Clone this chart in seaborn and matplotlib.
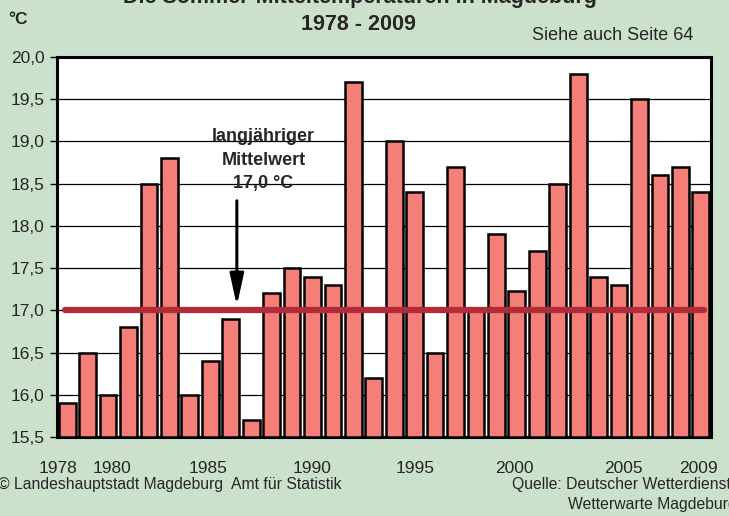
import matplotlib
matplotlib.use("Agg")
import matplotlib.pyplot as plt
import matplotlib.transforms as mtransforms
import seaborn as sns
import pandas as pd
import numpy as np

years = list(range(1978, 2010))
temps = [15.9, 16.5, 16.0, 16.8, 18.5, 18.8, 16.0, 16.4, 16.9, 15.7,
         17.2, 17.5, 17.4, 17.3, 19.7, 16.2, 19.0, 18.4, 16.5, 18.7,
         17.0, 17.9, 17.23, 17.7, 18.5, 19.8, 17.4, 17.3, 19.5, 18.6,
         18.7, 18.4]
mean_value = 17.0
label_years = [1978, 1980, 1985, 1990, 1995, 2000, 2005, 2009]
y_ticks = [15.5, 16.0, 16.5, 17.0, 17.5, 18.0, 18.5, 19.0, 19.5, 20.0]

bg = "#cce1cb"
bar_color = "#f47f79"
line_color = "#b22b38"

sns.set_theme(style="white")
plt.rcParams["font.family"] = ["Liberation Sans", "DejaVu Sans"]

df = pd.DataFrame({"Jahr": [str(y) for y in years], "Temp": temps})

fig = plt.figure(figsize=(7.29, 5.16), dpi=100, facecolor=bg)
ax = fig.add_axes([57/729, 1 - 437/516, (711-57)/729, (437-57)/516])
ax.set_facecolor("white")

sns.barplot(data=df, x="Jahr", y="Temp", color=bar_color, saturation=1,
            width=0.82, edgecolor="black", linewidth=1.8, ax=ax, zorder=3)
# bars start from the axis bottom (15,5)
for p in ax.patches:
    h = p.get_height()
    p.set_y(15.5)
    p.set_height(h - 15.5)

ax.set_ylim(15.5, 20.0)
ax.set_xlim(-0.5, len(years) - 0.5)
ax.set_yticks(y_ticks)
ax.set_yticklabels([f"{v:.1f}".replace(".", ",") for v in y_ticks], fontsize=12.5)
ax.yaxis.grid(True, color="black", linewidth=0.9, zorder=0)
ax.set_axisbelow(True)

ax.set_xticks([years.index(y) for y in label_years])
ax.set_xticklabels([str(y) for y in label_years], fontsize=12.5)
ax.tick_params(axis="x", length=0, pad=17)
# small label nudges (pixels) to mimic the original layout
nudges = [-9, 4, -2, 0, 0, -2, 4, -2]
for lbl, dx in zip(ax.get_xticklabels(), nudges):
    lbl.set_transform(lbl.get_transform() +
                      mtransforms.ScaledTranslation(dx / 100, 0, fig.dpi_scale_trans))
ax.set_xticks(np.arange(len(years) + 1) - 0.5, minor=True)
ax.tick_params(axis="x", which="minor", length=4, width=1, color="black", direction="out")
ax.tick_params(axis="y", length=5, width=1, color="black", direction="out", left=True, pad=4)
ax.set_xlabel("")
ax.set_ylabel("")

for s in ax.spines.values():
    s.set_visible(True)
    s.set_color("black")
    s.set_linewidth(2.2)

ax.axhline(mean_value, xmin=0.012, xmax=0.99, color=line_color, linewidth=4.5, zorder=4)

ax.annotate("", xy=(8.3, mean_value + 0.02), xytext=(8.3, 18.33),
            arrowprops=dict(arrowstyle="-|>,head_width=0.35,head_length=1.6",
                            color="black", lw=2.2), zorder=5)
ax.text(9.6, 18.40, "langjähriger\nMittelwert\n17,0 °C", ha="center", va="bottom",
        fontsize=13, fontweight="bold", linespacing=1.5, zorder=5)

fig.text(360/729, 1 - 3/516, "Die Sommer-Mitteltemperaturen in Magdeburg", ha="center",
         va="baseline", fontsize=15.5, fontweight="bold")
fig.text(358/729, 1 - 24/516, "1978 - 2009", ha="center", va="center",
         fontsize=15.5, fontweight="bold")
fig.text(18/729, 1 - 20/516, "°C", ha="center", va="center",
         fontsize=12.5, fontweight="bold")
fig.text(613/729, 1 - 36/516, "Siehe auch Seite 64", ha="center", va="center",
         fontsize=13)
fig.text(-2/729, 1 - 485/516, "© Landeshauptstadt Magdeburg  Amt für Statistik",
         ha="left", va="center", fontsize=11.3)
fig.text(731/729, 1 - 485/516, "Quelle: Deutscher Wetterdienst", ha="right",
         va="center", fontsize=11.3)
fig.text(737/729, 1 - 505/516, "Wetterwarte Magdeburg", ha="right",
         va="center", fontsize=11.3)

fig.savefig("out.png", dpi=100, facecolor=bg)
